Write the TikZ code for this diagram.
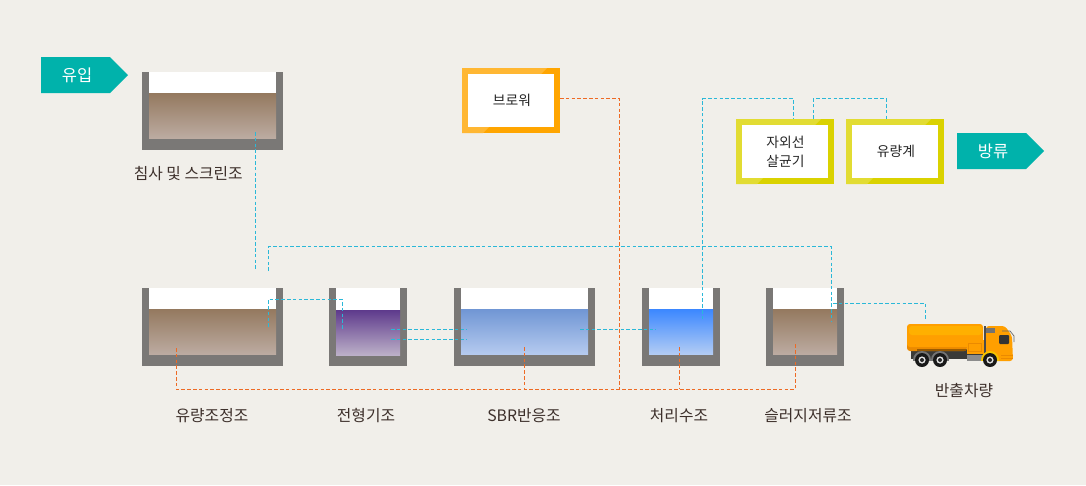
\documentclass[tikz,border=0pt]{standalone}
\usepackage{fontspec}
\setmainfont{Noto Sans CJK KR}
\usetikzlibrary{calc}
\definecolor{bgc}{HTML}{F1EFEA}
\definecolor{wallc}{HTML}{7A7876}
\definecolor{tealc}{HTML}{00B2AB}
\definecolor{cyanl}{HTML}{2BB8D8}
\definecolor{orl}{HTML}{EE6A24}
\definecolor{txtc}{HTML}{3D302B}
\definecolor{orA}{HTML}{FFA500}
\definecolor{orB}{HTML}{FFB733}
\definecolor{yeA}{HTML}{DAD200}
\definecolor{yeB}{HTML}{E2DC33}
\definecolor{brownT}{HTML}{94795F}
\definecolor{brownB}{HTML}{BCABA1}
\definecolor{purT}{HTML}{5E3A8C}
\definecolor{purB}{HTML}{BCB0C8}
\definecolor{sbrT}{HTML}{7096D4}
\definecolor{sbrB}{HTML}{B5CAEF}
\definecolor{treT}{HTML}{3B87FF}
\definecolor{treB}{HTML}{B2CCF4}
\definecolor{trA}{HTML}{FF9F00}
\definecolor{trB}{HTML}{FFB000}
\definecolor{trC}{HTML}{EB8A00}
\definecolor{trK}{HTML}{3A3A38}
\definecolor{trY}{HTML}{F5C400}
\tikzset{
  x=1pt,y=-1pt,
  rectn/.style={inner sep=0pt,outer sep=0pt,draw=none},
  cyl/.style={draw=cyanl,line width=1pt,dash pattern=on 3.6pt off 2.2pt},
  orn/.style={draw=orl,line width=1pt,dash pattern=on 3.6pt off 2.2pt},
  lab/.style={inner sep=0pt,text=txtc,font=\fontsize{15.8}{19}\selectfont},
  boxlab/.style={inner sep=0pt,text=black!85,align=center,font=\fontsize{13.8}{19}\selectfont},
  taglab/.style={inner sep=0pt,text=white,font=\fontsize{16.5}{19}\selectfont},
  innerbox/.style={rectn,fill=white,minimum width=86pt,minimum height=53pt},
}
% name, x0, x1, top, liquid top, liquid bottom, bottom, top colour, bottom colour
\newcommand{\tankdraw}[9]{%
  \node[rectn,fill=wallc,minimum width={(#3-#2)*1pt},minimum height={(#7-#4)*1pt}] (#1) at ({(#2+#3)/2},{(#4+#7)/2}) {};
  \fill[white] (#2+7,#4) rectangle (#3-7,#5);
  \shade[top color=#8,bottom color=#9] (#2+7,#5) rectangle (#3-7,#6);
}
% name, x, colour dark, colour light
\newcommand{\framedbox}[4]{%
  \node[rectn,fill=#3,minimum width=98pt,minimum height=65pt] (#1) at (#2) {};
  \fill[#4] ($(#1.north west)$) -- ++(85,0) -- ++(-6,6) -- ++(-73,0) -- ++(0,53) -- ++(21,0) -- ++(-6,6) -- ++(-21,0) -- cycle;
  \node[innerbox] at (#1) {};
}
% wheel: x, fender colour
\newcommand{\truckwheel}[2]{%
  \begin{scope}
    \clip (#1-10,350) rectangle (#1+10,360);
    \fill[#2] (#1,360) circle (9);
  \end{scope}
  \fill[black!90] (#1,360) circle (7);
  \fill[black!12] (#1,360) circle (3.6);
  \fill[black!85] (#1,360) circle (2);
}
\begin{document}
\begin{tikzpicture}
\useasboundingbox (0,0) rectangle (1086,485);
\fill[bgc] (0,0) rectangle (1086,485);

% tags
\fill[tealc] (41,57) -- (110,57) -- (128,75) -- (110,93) -- (41,93) -- cycle;
\node[taglab] (inflow) at (77,75.7) {유입};
\fill[tealc] (957,133) -- (1026,133) -- (1044,151) -- (1026,169) -- (957,169) -- cycle;
\node[taglab] (outflow) at (993,151.7) {방류};

% tanks
\tankdraw{screen}{142}{283}{72}{93}{138}{150}{brownT}{brownB}
\tankdraw{equal}{142}{283}{288}{309}{354}{366}{brownT}{brownB}
\tankdraw{shape}{329}{407}{288}{310}{355}{366}{purT}{purB}
\tankdraw{sbr}{454}{595}{288}{309}{354}{366}{sbrT}{sbrB}
\tankdraw{treat}{642}{720}{288}{309}{354}{366}{treT}{treB}
\tankdraw{sludge}{766}{844}{288}{309}{354}{366}{brownT}{brownB}

% equipment boxes
\framedbox{blower}{511,100.5}{orA}{orB}
\framedbox{uv}{785,151.5}{yeA}{yeB}
\framedbox{flow}{895,151.5}{yeA}{yeB}
\node[boxlab] at (512,100.7) {브로워};
\node[boxlab] at (785.5,152) {자외선\\살균기};
\node[boxlab] at (896,151.2) {유량계};

% truck
\begin{scope}
  \fill[trK] (911,349) rectangle (986,359);
  \fill[black!45] (967,355) rectangle (983,361);
  \fill[trC,rounded corners=3pt] (907,330) rectangle (967,351);
  \fill[black!35!trC] (917,349) rectangle (966,351);
  \fill[trA,rounded corners=3pt] (907,324) rectangle (983,347);
  \fill[trB,rounded corners=3pt] (909,326) rectangle (982,335);
  \fill[trA] (967,340) rectangle (984,353.5);
  \fill[trC] (968,342.5) rectangle (982,352);
  \fill[trA] (969,343.5) rectangle (981,351);
  \fill[black!70] (984,326) rectangle (986,356);
  \fill[trA,rounded corners=3pt] (986,326) -- (1005,326) -- (1012,336) -- (1013,361) -- (986,361) -- cycle;
  \fill[black!55] (986,328) rectangle (995,333);
  \fill[black!80,rounded corners=1pt] (999,335) rectangle (1009,344);
  \draw[black!60,line width=0.7pt] (1002,331) -- (1010,331) -- (1014,336) -- (1014,342);
  \fill[trC] (1001,355) rectangle (1013,356);
  \fill[trC] (1001,358) rectangle (1013,359);
  \truckwheel{922}{black!55}
  \truckwheel{940}{black!55}
  \truckwheel{990}{trY}
  \coordinate (truck) at (925.3,320);
\end{scope}

% labels
\node[lab] at (188.3,173.7) {침사 및 스크린조};
\node[lab] at (212,415.3) {유량조정조};
\node[lab] at (366,415.3) {전형기조};
\node[lab] at (524,415.3) {SBR반응조};
\node[lab] at (679,415.3) {처리수조};
\node[lab] at (808,415.3) {슬러지저류조};
\node[lab] at (964,390.7) {반출차량};

% free connector ends
\coordinate (a1) at (255.3,132);
\coordinate (a2) at (255.3,270);
\coordinate (b1) at (268.3,271);
\coordinate (b2) at (831.3,321);
\coordinate (bt) at (268.3,246.7);
\coordinate (c1) at (268.3,327);
\coordinate (c2) at (342.3,329);
\coordinate (ct) at (268.3,299.3);
\coordinate (d1) at (391,329.3);
\coordinate (d2) at (467,329.3);
\coordinate (e1) at (391,339.3);
\coordinate (e2) at (467,339.3);
\coordinate (f1) at (580,329.3);
\coordinate (f2) at (656,329.3);
\coordinate (g1) at (702.3,319.3);
\coordinate (gt) at (702.3,98.7);
\coordinate (h1) at (833,303.3);
\coordinate (o1) at (176.3,348);
\coordinate (o2) at (795.3,343);
\coordinate (om) at (176.3,389.3);
\coordinate (o3) at (524.3,347);
\coordinate (o4) at (679.3,347);
\coordinate (o5) at (619.3,389.3);

% cyan connectors
\draw[cyl] (a1) -- (a2);
\draw[cyl] (b1) -- (bt) -| (b2);
\draw[cyl] (c1) -- (ct) -| (c2);
\draw[cyl] (d1) -- (d2);
\draw[cyl] (e1) -- (e2);
\draw[cyl] (f1) -- (f2);
\draw[cyl] (g1) -- (gt) -| ([xshift=8.3pt]uv.north);
\draw[cyl] ([xshift=28.3pt]uv.north) |- ([xshift=-8.7pt]flow.north |- gt) -- ([xshift=-8.7pt]flow.north);
\draw[cyl] (h1) -| (truck);

% orange connectors
\draw[orn] (o1) -- (om) -| (o2);
\draw[orn] (o3) -- (o3 |- om);
\draw[orn] (o4) -- (o4 |- om);
\draw[orn] ([yshift=2.2pt]blower.east) -| (o5);
\end{tikzpicture}
\end{document}
